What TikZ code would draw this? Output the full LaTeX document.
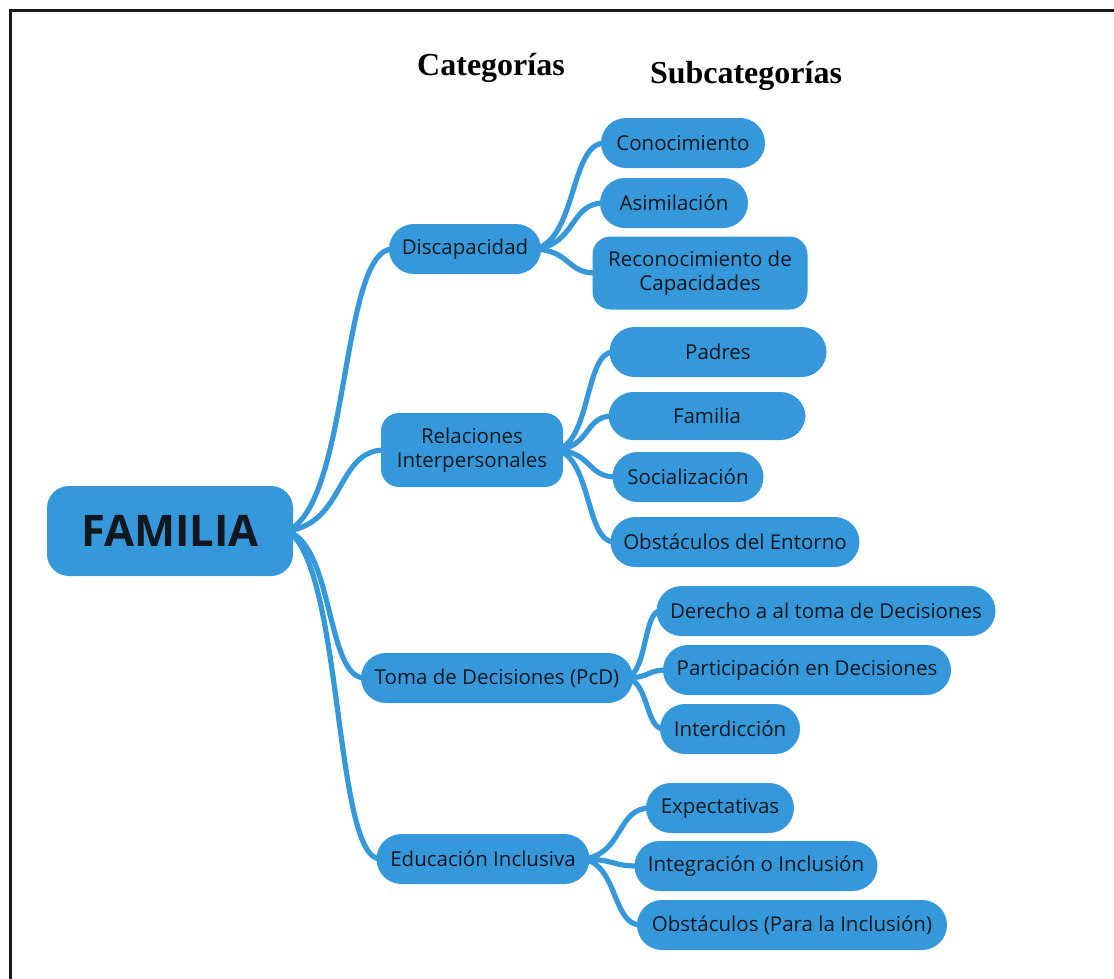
\documentclass[tikz,border=0pt]{standalone}
\usepackage{fontspec}
\setmainfont{Open Sans}
\newfontfamily\headfont{Liberation Serif}
\usetikzlibrary{backgrounds,calc}
\definecolor{mmblue}{HTML}{3498DB}
\definecolor{mmtext}{HTML}{10171E}

\tikzset{
  topic/.style={fill=mmblue, text=mmtext, inner sep=0pt, align=center,
    font=\fontsize{20.5}{23.5}\selectfont, rounded corners=25pt, minimum height=50pt},
  twoline/.style={topic, rounded corners=18pt},
  central/.style={fill=mmblue, text=mmtext, inner sep=0pt, rounded corners=22pt,
    font=\fontsize{43.5}{50}\selectfont\bfseries},
  branch/.style={draw=mmblue, line width=5.2pt, line cap=round},
  header/.style={font=\headfont\fontsize{32}{36}\selectfont\bfseries, text=black, anchor=base},
  frameline/.style={draw=black!90, line width=3pt}
}

% curved branch from the right side of one topic to the left side of another
\newcommand{\branchlink}[2]{%
  \draw[branch] let \p1=([xshift=-6pt]#1.east), \p2=([xshift=4pt]#2.west) in
    (\p1) .. controls ({\x1+0.6*(\x2-\x1)},{\y1+0.1*(\y2-\y1)})
            and ({\x1+0.5*(\x2-\x1)},{\y2}) .. (\p2);}

\begin{document}
\begin{tikzpicture}[x=1pt, y=-1pt]
\useasboundingbox (0,0) rectangle (1114,978);
\draw[frameline] (10,990) -- (10,10) -- (1124,10);

% column headers
\node[header] (hcat) at (491,75) {Categorías};
\node[header] (hsub) at (746,83) {Subcategorías};

% central topic
\node[central, minimum width=246pt, minimum height=90pt] (fam) at (170,531) {FAMILIA};

% categories
\node[topic, minimum width=152pt] (dis) at (465,249) {Discapacidad};
\node[twoline, minimum width=182pt, minimum height=74pt] (rel) at (472,450) {Relaciones\\Interpersonales};
\node[topic, minimum width=272pt] (tom) at (497,678) {Toma de Decisiones (PcD)};
\node[topic, minimum width=213pt] (edu) at (483,859) {Educación Inclusiva};

% subcategories
\node[topic, minimum width=164pt] (con) at (683,143) {Conocimiento};
\node[topic, minimum width=148pt] (asi) at (674,203) {Asimilación};
\node[twoline, minimum width=215pt, minimum height=73pt] (rec) at (700,273) {Reconocimiento de\\Capacidades};

\node[topic, minimum width=217pt] (pad) at (718,352) {Padres};
\node[topic, minimum width=197pt, minimum height=48pt] (fami) at (707,416) {Familia};
\node[topic, minimum width=151pt] (soc) at (688,477) {Socialización};
\node[topic, minimum width=249pt] (obe) at (735,542) {Obstáculos del Entorno};

\node[topic, minimum width=339pt] (der) at (826,611) {Derecho a al toma de Decisiones};
\node[topic, minimum width=288pt] (par) at (807,670) {Participación en Decisiones};
\node[topic, minimum width=140pt] (inte) at (730,729) {Interdicción};

\node[topic, minimum width=148pt] (exq) at (720,808) {Expectativas};
\node[topic, minimum width=243pt] (inc) at (756,866) {Integración o Inclusión};
\node[topic, minimum width=310pt] (obi) at (792,925) {Obstáculos (Para la Inclusión)};

% branches
\begin{scope}[on background layer]
  \branchlink{fam}{dis}
  \branchlink{fam}{rel}
  \branchlink{fam}{tom}
  \branchlink{fam}{edu}
  \branchlink{dis}{con}
  \branchlink{dis}{asi}
  \branchlink{dis}{rec}
  \branchlink{rel}{pad}
  \branchlink{rel}{fami}
  \branchlink{rel}{soc}
  \branchlink{rel}{obe}
  \branchlink{tom}{der}
  \branchlink{tom}{par}
  \branchlink{tom}{inte}
  \branchlink{edu}{exq}
  \branchlink{edu}{inc}
  \branchlink{edu}{obi}
\end{scope}
\end{tikzpicture}
\end{document}
